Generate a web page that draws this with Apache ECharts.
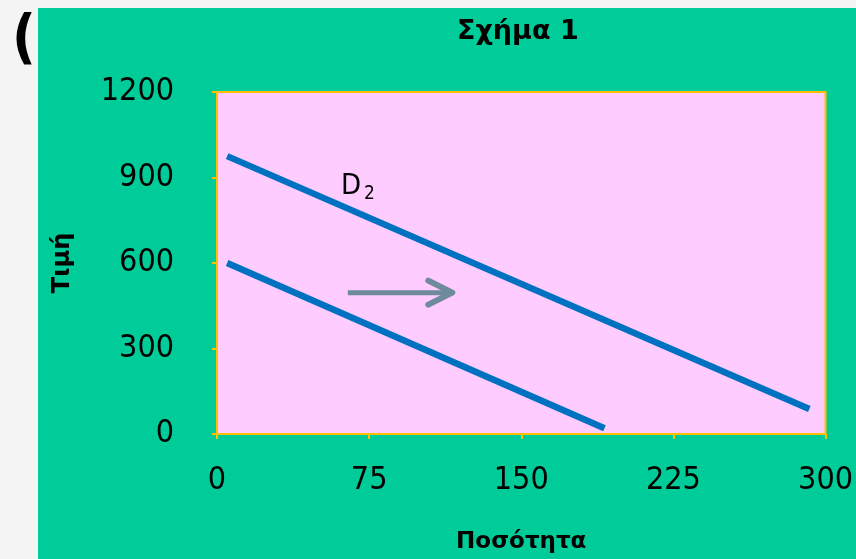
<!DOCTYPE html>
<html>
<head>
<meta charset="utf-8">
<script src="https://cdn.jsdelivr.net/npm/echarts@6/dist/echarts.min.js"></script>
<style>
  html, body { margin: 0; padding: 0; background: #f4f4f4; }
  #chart { width: 856px; height: 559px; }
</style>
</head>
<body>
<div id="chart"></div>
<script>
// Demand curves: original and shifted (D2)
var demandD1 = [[5, 600], [191, 20]];
var demandD2 = [[5, 975], [292, 88]];
// Shift arrow (from -> to), in quantity/price units
var shiftArrow = [[64.5, 496, 116, 496]];
// Label point for the shifted curve
var d2Label = [[69.5, 868]];

var xTicks = { min: 0, max: 300, interval: 75 };
var yTicks = { min: 0, max: 1200, interval: 300 };

var FONT = 'DejaVu Sans';
var FONT_NUM = '"DejaVu Sans Condensed", "DejaVu Sans"';
var GOLD = '#ffc000';
var BLUE = '#0070c0';

var chart = echarts.init(document.getElementById('chart'));

function plain(v) { return String(v); }

chart.setOption({
  backgroundColor: '#f4f4f4',
  animation: false,
  textStyle: { fontFamily: FONT },
  graphic: [
    {
      type: 'text', left: 12, top: 13, z: -20,
      style: { text: '(α', fontSize: 58, fontWeight: 'bold', fontFamily: FONT_NUM, fill: '#000' }
    },
    {
      type: 'rect', z: -10,
      shape: { x: 38, y: 8, width: 818, height: 551 },
      style: { fill: '#00cc99' }
    }
  ],
  title: {
    text: 'Σχήμα 1',
    left: 452, top: 13,
    textStyle: { fontFamily: FONT, fontWeight: 'bold', fontSize: 27, color: '#000' }
  },
  grid: {
    left: 217, top: 92, right: 30, bottom: 125,
    show: true,
    backgroundColor: '#ffccff',
    borderColor: GOLD,
    borderWidth: 2
  },
  xAxis: {
    type: 'value',
    min: xTicks.min, max: xTicks.max, interval: xTicks.interval,
    name: 'Ποσότητα',
    nameLocation: 'middle',
    nameGap: 97,
    nameTextStyle: { fontFamily: FONT, fontWeight: 'bold', fontSize: 23, color: '#000' },
    axisLine: { lineStyle: { color: GOLD, width: 2 } },
    axisTick: { show: true, length: 5, lineStyle: { color: GOLD, width: 2 } },
    axisLabel: { margin: 31, fontSize: 32, color: '#000', fontFamily: FONT_NUM, formatter: plain },
    splitLine: { show: false }
  },
  yAxis: {
    type: 'value',
    min: yTicks.min, max: yTicks.max, interval: yTicks.interval,
    name: 'Τιμή',
    nameLocation: 'middle',
    nameGap: 142,
    nameRotate: 90,
    nameTextStyle: { fontFamily: FONT, fontWeight: 'bold', fontSize: 24, color: '#000' },
    axisLine: { lineStyle: { color: GOLD, width: 2 } },
    axisTick: { show: true, length: 5, lineStyle: { color: GOLD, width: 2 } },
    axisLabel: { margin: 43, fontSize: 32, color: '#000', fontFamily: FONT_NUM, formatter: plain, padding: [4, 0, 0, 0] },
    splitLine: { show: false }
  },
  series: [
    {
      type: 'line', data: demandD1, symbol: 'none', silent: true,
      lineStyle: { color: BLUE, width: 6.5, cap: 'butt' }
    },
    {
      type: 'line', data: demandD2, symbol: 'none', silent: true,
      lineStyle: { color: BLUE, width: 6.5, cap: 'butt' }
    },
    {
      type: 'custom',
      data: shiftArrow,
      silent: true,
      renderItem: function (params, api) {
        var p0 = api.coord([api.value(0), api.value(1)]);
        var p1 = api.coord([api.value(2), api.value(3)]);
        var head = 24, half = 12;
        var color = '#6f8a9a';
        return {
          type: 'group',
          children: [
            { type: 'line', shape: { x1: p0[0], y1: p0[1], x2: p1[0] - 2, y2: p1[1] }, style: { stroke: color, lineWidth: 5, lineCap: 'butt' } },
            { type: 'polyline', shape: { points: [[p1[0] - head, p1[1] - half], [p1[0], p1[1]], [p1[0] - head, p1[1] + half]] },
              style: { stroke: color, lineWidth: 6, lineCap: 'round', lineJoin: 'round', fill: null } }
          ]
        };
      }
    },
    {
      type: 'scatter', data: d2Label, symbolSize: 0, silent: true,
      itemStyle: { opacity: 1 },
      label: {
        show: true, position: 'inside',
        formatter: 'D{sub|2}',
        fontFamily: FONT_NUM, fontSize: 29, color: '#000',
        rich: { sub: { fontSize: 19, fontFamily: FONT_NUM, color: '#000', verticalAlign: 'bottom', padding: [14, 0, 0, 3] } }
      }
    }
  ]
});
</script>
</body>
</html>
